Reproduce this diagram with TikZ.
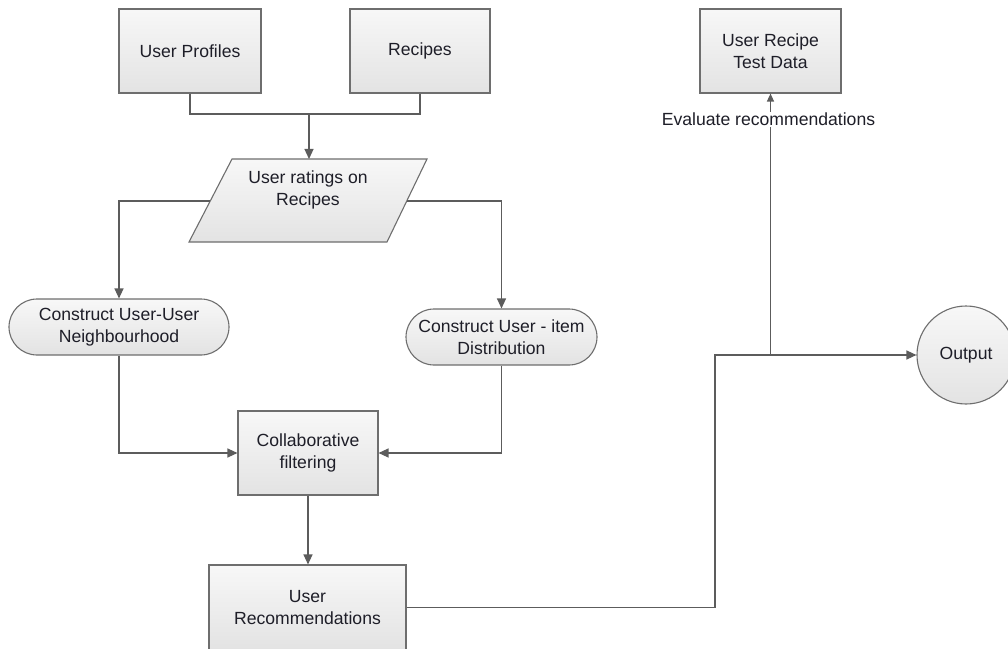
\documentclass[tikz,border=0pt]{standalone}
\usepackage{fontspec}
\setmainfont{Liberation Sans}
\usetikzlibrary{arrows.meta}
\definecolor{edgegray}{HTML}{6E6E6E}
\definecolor{linegray}{HTML}{5C5C5C}
\definecolor{txt}{HTML}{1E1E28}
\tikzset{
  procbox/.style={draw=edgegray, line width=1.1bp, top color=white!97!black,
    bottom color=black!11, text=txt, align=center, inner sep=0pt,
    font=\fontsize{17.6bp}{22bp}\selectfont},
  termbox/.style={procbox, rounded corners=28bp},
  conn/.style={draw=linegray, line width=1.2bp},
  arr/.style={conn, -{Triangle[length=10bp,width=9bp]}},
  smallarr/.style={conn, -{Triangle[length=8bp,width=7bp]}},
  lbl/.style={fill=white, text=txt, inner sep=1bp,
    font=\fontsize{17.6bp}{22bp}\selectfont}
}
\begin{document}
\begin{tikzpicture}[x=1bp, y=-1bp]
\useasboundingbox (0,0) rectangle (1008,649);

% data sources
\node[procbox, minimum width=142bp, minimum height=84bp] (up) at (190,51) {User Profiles};
\node[procbox, minimum width=140bp, minimum height=84bp] (rec) at (420,51) {Recipes};
\node[procbox, minimum width=141bp, minimum height=84bp] (td) at (770.5,51) {User Recipe\\Test Data};

% ratings (parallelogram)
\path[procbox] (232,159) -- (427,159) -- (387,242) -- (189,242) -- cycle;
\node[align=center, text=txt, font=\fontsize{17.6bp}{22bp}\selectfont] (rt) at (308,190) {User ratings on\\Recipes};
\coordinate (rtT) at (309,159);
\coordinate (rtL) at (210,201);
\coordinate (rtR) at (407,201);

% neighbourhood / distribution
\node[termbox, minimum width=220bp, minimum height=56bp] (uun) at (119,327) {Construct User-User\\Neighbourhood};
\node[termbox, minimum width=191bp, minimum height=56bp] (uid) at (501.5,337) {Construct User - item\\Distribution};

% filtering and recommendations
\node[procbox, minimum width=140bp, minimum height=84bp] (cf) at (308,453) {Collaborative\\filtering};
\node[procbox, minimum width=197bp, minimum height=85bp] (ur) at (307.5,607.5) {User\\Recommendations};

% output
\node[procbox, circle, minimum size=98bp] (out) at (966,355) {Output};

% connectors
\coordinate (j) at (309,114);
\draw[conn] (up.south) |- (j) -| (rec.south);
\draw[arr] (j) -- (rtT);
\draw[arr] (rtL) -| (uun.north);
\draw[arr] (rtR) -| (uid.north);
\draw[arr] (uun.south) |- (cf.west);
\draw[arr] (uid.south) |- (cf.east);
\draw[arr] (cf.south) -- (cf.south |- ur.north);
\coordinate (k1) at (715,355);
\coordinate (k2) at (770.5,355);
\draw[arr] (ur.east) -| (k1) -- (out.west);
\draw[smallarr] (k2) -- (td.south);
\node[lbl] (ev) at (768.5,119.5) {Evaluate recommendations};
\end{tikzpicture}
\end{document}
